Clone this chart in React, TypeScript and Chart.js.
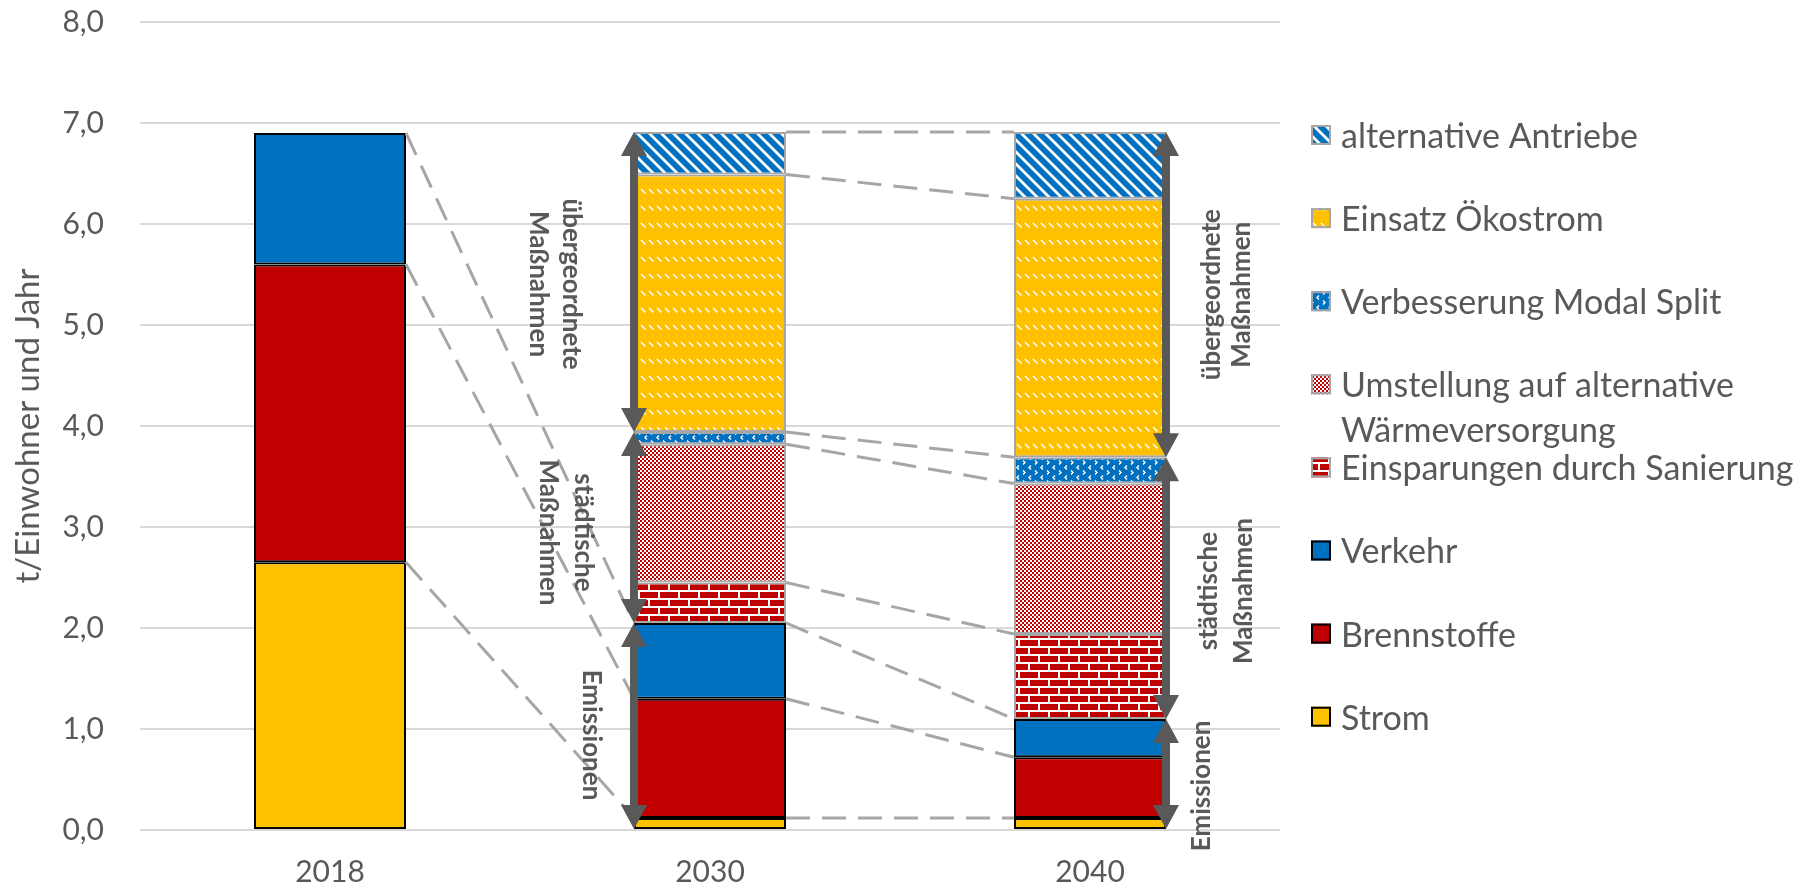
import React, { useEffect, useRef } from 'react';
import { Chart, registerables } from 'chart.js';

Chart.register(...registerables);

// Categories and stacked series (t CO2 per inhabitant and year)
const years = ['2018', '2030', '2040'];
const strom = [2.65, 0.12, 0.12];
const brennstoffe = [2.95, 1.18, 0.6];
const verkehr = [1.3, 0.75, 0.38];
const sanierung = [null, 0.4, 0.84];
const waermeversorgung = [null, 1.37, 1.49];
const modalSplit = [null, 0.12, 0.26];
const oekostrom = [null, 2.55, 2.56];
const antriebe = [null, 0.42, 0.66];

const seriesLabels = [
  'Strom',
  'Brennstoffe',
  'Verkehr',
  'Einsparungen durch Sanierung',
  'Umstellung auf alternative Wärmeversorgung',
  'Verbesserung Modal Split',
  'Einsatz Ökostrom',
  'alternative Antriebe',
];

// Which bracket each series belongs to (0 = Emissionen, 1 = städtische, 2 = übergeordnete)
const seriesGroup = [0, 0, 0, 1, 1, 1, 2, 2];
const groupLabels = [['Emissionen'], ['städtische', 'Maßnahmen'], ['übergeordnete', 'Maßnahmen']];

const yTicks = [0, 1, 2, 3, 4, 5, 6, 7, 8];
const yTitle = 't/Einwohner und Jahr';

const BLUE = '#0070C0';
const RED = '#C00000';
const YELLOW = '#FFC000';
const TEXT = '#595959';
const FONT = 'Lato, "Open Sans", sans-serif';

function makePattern(w: number, h: number, bg: string, paint: (g: CanvasRenderingContext2D) => void) {
  const c = document.createElement('canvas');
  c.width = w;
  c.height = h;
  const g = c.getContext('2d')!;
  g.fillStyle = bg;
  g.fillRect(0, 0, w, h);
  paint(g);
  return g.createPattern(c, 'repeat')!;
}

function buildFills() {
  const bricks = makePattern(20, 16, '#FFFFFF', (g) => {
    g.fillStyle = RED;
    g.fillRect(0, 0, 18, 6);
    g.fillRect(10, 8, 18, 6);
    g.fillRect(-10, 8, 18, 6);
  });
  const checker = makePattern(4, 4, '#FFFFFF', (g) => {
    g.fillStyle = RED;
    g.fillRect(0, 0, 2, 2);
    g.fillRect(2, 2, 2, 2);
  });
  const chevrons = makePattern(12, 10, BLUE, (g) => {
    g.strokeStyle = '#FFFFFF';
    g.lineWidth = 1.4;
    g.beginPath();
    g.moveTo(3, 0.5);
    g.lineTo(5, 2.5);
    g.lineTo(3, 4.5);
    g.moveTo(11, 5.5);
    g.lineTo(9, 7.5);
    g.lineTo(11, 9.5);
    g.stroke();
  });
  const dashes = makePattern(8, 17, YELLOW, (g) => {
    g.strokeStyle = '#FFFFFF';
    g.lineWidth = 1.6;
    g.beginPath();
    g.moveTo(1, 2);
    g.lineTo(5.5, 6.5);
    g.stroke();
  });
  const stripes = makePattern(12, 12, BLUE, (g) => {
    g.strokeStyle = '#FFFFFF';
    g.lineWidth = 2.8;
    g.beginPath();
    for (const k of [-12, 0, 12]) {
      g.moveTo(k - 2, -2);
      g.lineTo(k + 14, 14);
    }
    g.stroke();
  });
  return [YELLOW, RED, BLUE, bricks, checker, chevrons, dashes, stripes];
}

function doubleArrow(ctx: CanvasRenderingContext2D, x: number, yTop: number, yBot: number) {
  const hw = 13;
  const hl = 24;
  const sw = 4;
  ctx.beginPath();
  ctx.moveTo(x, yTop);
  ctx.lineTo(x + hw, yTop + hl);
  ctx.lineTo(x + sw, yTop + hl);
  ctx.lineTo(x + sw, yBot - hl);
  ctx.lineTo(x + hw, yBot - hl);
  ctx.lineTo(x, yBot);
  ctx.lineTo(x - hw, yBot - hl);
  ctx.lineTo(x - sw, yBot - hl);
  ctx.lineTo(x - sw, yTop + hl);
  ctx.lineTo(x - hw, yTop + hl);
  ctx.closePath();
  ctx.fill();
}

// Dashed connectors between stacks, bracket arrows with captions, and the legend
const overlayPlugin = {
  id: 'overlay',
  afterDatasetsDraw(chart: any) {
    const ctx: CanvasRenderingContext2D = chart.ctx;
    const datasets = chart.data.datasets;
    const metas = datasets.map((_: any, i: number) => chart.getDatasetMeta(i));

    // connectors
    ctx.save();
    ctx.strokeStyle = '#A6A6A6';
    ctx.lineWidth = 3;
    ctx.setLineDash([24, 12]);
    for (let j = 0; j < years.length - 1; j++) {
      metas.forEach((m: any, i: number) => {
        const d = datasets[i].data;
        if (d[j] == null || d[j + 1] == null) return;
        const a = m.data[j];
        const b = m.data[j + 1];
        ctx.beginPath();
        ctx.moveTo(a.x + a.width / 2, a.y);
        ctx.lineTo(b.x - b.width / 2, b.y);
        ctx.stroke();
      });
    }
    ctx.restore();

    // bracket arrows and captions
    const arrowBars = [
      { index: 1, side: -1, lines: [[-43], [-51, -86], [-63, -96]], dy: [9, 5, 2] },
      { index: 2, side: 1, lines: [[36], [43, 78], [46, 76]], dy: [12, 3, 0] },
    ];
    ctx.save();
    ctx.font = `bold 26px ${FONT}`;
    ctx.textAlign = 'center';
    ctx.textBaseline = 'middle';
    for (const ab of arrowBars) {
      for (let g = 0; g < groupLabels.length; g++) {
        const members = seriesGroup.map((s, i) => (s === g ? i : -1)).filter((i) => i >= 0);
        const first = metas[members[0]].data[ab.index];
        const last = metas[members[members.length - 1]].data[ab.index];
        const x = first.x + (ab.side * first.width) / 2;
        const yBot = first.base;
        const yTop = last.y;
        ctx.fillStyle = '#595959';
        doubleArrow(ctx, x, yTop, yBot);
        const yc = (yTop + yBot) / 2 + ab.dy[g];
        groupLabels[g].forEach((line, k) => {
          ctx.save();
          ctx.translate(x + ab.lines[g][k], yc);
          ctx.rotate(ab.side < 0 ? Math.PI / 2 : -Math.PI / 2);
          ctx.fillText(line, 0, 0);
          ctx.restore();
        });
      }
    }
    ctx.restore();
  },
  afterDraw(chart: any) {
    const ctx: CanvasRenderingContext2D = chart.ctx;
    const datasets = chart.data.datasets;
    const swatchX = 1311;
    const swatch = 20;
    const textX = 1341;
    const top = 135;
    const step = 83.1;
    const maxW = chart.width - textX - 4;
    ctx.save();
    ctx.font = `34px ${FONT}`;
    ctx.textBaseline = 'middle';
    ctx.textAlign = 'left';
    const order = datasets.map((_: any, i: number) => i).reverse();
    order.forEach((i: number, row: number) => {
      const ds = datasets[i];
      const cy = top + row * step;
      ctx.fillStyle = ds.backgroundColor;
      ctx.fillRect(swatchX, cy - swatch / 2, swatch, swatch);
      ctx.strokeStyle = ds.borderColor;
      ctx.lineWidth = 2;
      ctx.strokeRect(swatchX + 1, cy - swatch / 2 + 1, swatch - 2, swatch - 2);
      // wrap long legend entries onto further lines
      const words = String(ds.label).split(' ');
      const lines: string[] = [];
      let cur = '';
      for (const w of words) {
        const test = cur ? cur + ' ' + w : w;
        if (cur && ctx.measureText(test).width > maxW) {
          lines.push(cur);
          cur = w;
        } else {
          cur = test;
        }
      }
      if (cur) lines.push(cur);
      ctx.fillStyle = TEXT;
      lines.forEach((l, k) => ctx.fillText(l, textX, cy + 2 + k * 45));
    });
    ctx.restore();
  },
};

export default function App() {
  const ref = useRef<HTMLCanvasElement>(null);

  useEffect(() => {
    const fills = buildFills();
    const values = [strom, brennstoffe, verkehr, sanierung, waermeversorgung, modalSplit, oekostrom, antriebe];
    const datasets = values.map((data, i) => ({
      label: seriesLabels[i],
      data,
      backgroundColor: fills[i],
      borderColor: i < 3 ? '#000000' : '#A6A6A6',
      borderWidth: 2,
      borderSkipped: false,
      barPercentage: 0.4,
      categoryPercentage: 1,
    }));

    const chart = new Chart(ref.current!, {
      type: 'bar',
      data: { labels: years, datasets: datasets as any },
      options: {
        animation: false,
        responsive: false,
        devicePixelRatio: 1,
        layout: { padding: { left: 0, right: 534, top: 22, bottom: 0 } },
        plugins: { legend: { display: false }, tooltip: { enabled: false } },
        scales: {
          x: {
            stacked: true,
            grid: { display: false },
            border: { display: false },
            ticks: { color: TEXT, font: { family: FONT, size: 30 }, padding: 16 },
            afterFit: (s: any) => {
              s.height = 64;
            },
          },
          y: {
            stacked: true,
            min: yTicks[0],
            max: yTicks[yTicks.length - 1],
            afterBuildTicks: (s: any) => {
              s.ticks = yTicks.map((v) => ({ value: v }));
            },
            grid: { color: '#D9D9D9', lineWidth: 2, drawTicks: false },
            border: { display: false },
            ticks: {
              color: TEXT,
              font: { family: FONT, size: 30 },
              padding: 36,
              callback: (v: any) => Number(v).toFixed(1).replace('.', ','),
            },
            title: {
              display: true,
              text: yTitle,
              color: TEXT,
              font: { family: FONT, size: 33 },
              padding: { top: 9, bottom: 0 },
            },
            afterFit: (s: any) => {
              s.width = 140;
              s.paddingTop = 0;
              s.paddingBottom = 0;
            },
          },
        },
      },
      plugins: [overlayPlugin],
    });
    return () => chart.destroy();
  }, []);

  return (
    <div style={{ position: 'absolute', left: 0, top: 0, width: 1814, height: 894, background: '#FFFFFF' }}>
      <canvas ref={ref} width={1814} height={894} style={{ display: 'block', width: 1814, height: 894 }} />
    </div>
  );
}
